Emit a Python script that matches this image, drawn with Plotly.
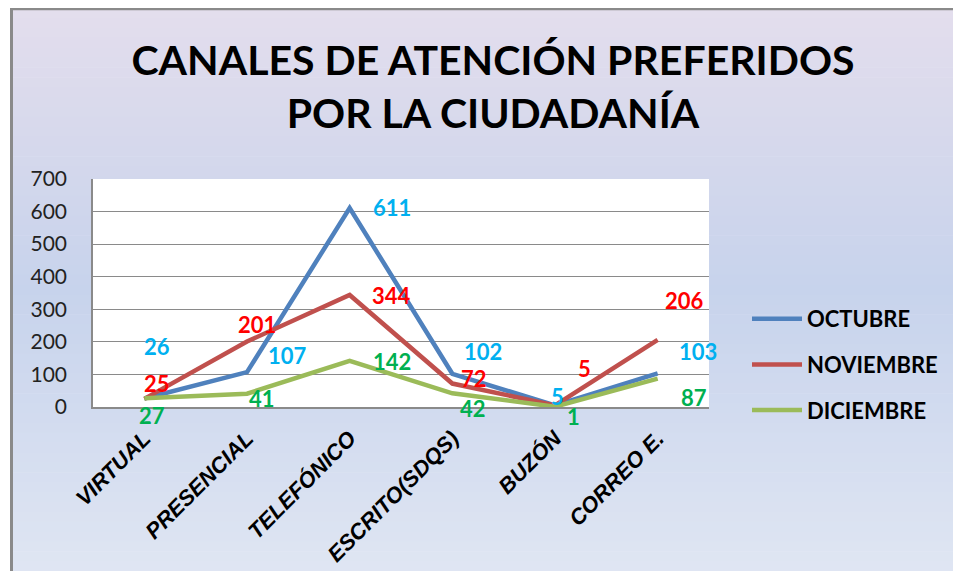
import plotly.graph_objects as go

categories = ["VIRTUAL", "PRESENCIAL", "TELEFÓNICO", "ESCRITO(SDQS)", "BUZÓN", "CORREO E."]
octubre = [26, 107, 611, 102, 5, 103]
noviembre = [25, 201, 344, 72, 5, 206]
diciembre = [27, 41, 142, 42, 1, 87]
series_names = ["OCTUBRE", "NOVIEMBRE", "DICIEMBRE"]
y_ticks = [0, 100, 200, 300, 400, 500, 600, 700]

# label offsets (pixels: dx right, dy down) per series
oct_off = [(13, -52), (40, -17), (42, 0), (31, -22), (2, -9), (40, -22)]
nov_off = [(13, -15), (10, -17), (42, 1), (22, -5), (29, -37), (27, -39)]
dic_off = [(8, 17), (15, 5), (42, 1), (21, 15), (18, 10), (36, 19)]

line_colors = ["#4F81BD", "#C0504D", "#9BBB59"]
label_colors = ["#00B0F0", "#FF0000", "#00B050"]

OFF = 8  # page body margin
W, H = 961 - 2 * OFF, 579 - 2 * OFF
# plot area in page pixels: x 93..709, y 179..407
ML = 93 - OFF
MR = W - (709 - OFF)
MT = 179 - OFF
MB = H - (407 - OFF)
PW, PH = W - ML - MR, H - MT - MB

def px(x):  # page pixel -> paper
    return ((x - OFF) - ML) / PW

def py(y):
    return (H - MB - (y - OFF)) / PH

FONT = "Lato, 'Open Sans', sans-serif"
XFONT = "'Liberation Sans Narrow', 'Liberation Sans', sans-serif"

fig = go.Figure()
all_series = [octubre, noviembre, diciembre]
all_offs = [oct_off, nov_off, dic_off]
for i, (name, vals) in enumerate(zip(series_names, all_series)):
    fig.add_trace(go.Scatter(
        x=categories, y=vals, mode="lines", name=name,
        line=dict(color=line_colors[i], width=4.5),
        legendgroup=name,
    ))

annotations = []
for i, (vals, offs) in enumerate(zip(all_series, all_offs)):
    for c, v, (dx, dy) in zip(categories, vals, offs):
        annotations.append(dict(
            x=c, y=v, xref="x", yref="y", text=str(v), showarrow=False,
            xshift=dx, yshift=-dy,
            font=dict(family=FONT, size=22, color=label_colors[i], weight="bold"),
        ))

# background gradient
stops = [(6, (228, 222, 237)), (150, (213, 216, 236)), (290, (199, 211, 236)), (579, (224, 230, 243))]

def col_at(y):
    for (y0, c0), (y1, c1) in zip(stops[:-1], stops[1:]):
        if y0 <= y <= y1:
            t = (y - y0) / (y1 - y0)
            return tuple(round(a + (b - a) * t) for a, b in zip(c0, c1))
    return stops[-1][1]

shapes = []
n = 57
y_start = 8
y_end = OFF + H
step = (y_end - y_start) / n
for k in range(n):
    y0 = y_start + k * step
    y1 = min(y0 + step + 0.6, y_end)
    c = col_at((y0 + y1) / 2)
    shapes.append(dict(type="rect", xref="paper", yref="paper",
                       x0=px(11), x1=px(OFF + W), y0=py(y0), y1=py(y1),
                       fillcolor="rgb(%d,%d,%d)" % c, line=dict(width=0), layer="below"))
shapes.append(dict(type="rect", xref="x domain", yref="y domain", x0=0, x1=1, y0=0, y1=1,
                   fillcolor="white", line=dict(width=0), layer="below"))
# frame: left and top edges only
shapes.append(dict(type="line", xref="paper", yref="paper",
                   x0=px(11.5), x1=px(11.5), y0=py(8), y1=py(OFF + H),
                   line=dict(color="#8a8a8a", width=3), layer="below"))
shapes.append(dict(type="line", xref="paper", yref="paper",
                   x0=px(10), x1=px(OFF + W), y0=py(9), y1=py(9),
                   line=dict(color="#8a8a8a", width=2.5), layer="below"))

fig.update_layout(
    width=W, height=H,
    margin=dict(l=ML, r=MR, t=MT, b=MB, autoexpand=False),
    paper_bgcolor="white", plot_bgcolor="white",
    title=dict(text="CANALES DE ATENCIÓN PREFERIDOS<br>POR LA CIUDADANÍA",
               x=(493 - OFF) / W, xanchor="center", xref="container",
               y=1 - 67 / H, yanchor="top", yref="container",
               font=dict(family=FONT, size=41, color="black", weight="bold")),
    xaxis=dict(type="category", range=[-0.5, 5.5], showgrid=False,
               showline=True, linecolor="#8a8a8a", linewidth=1.5,
               tickangle=-45, ticks="", ticklabelstandoff=8,
               tickfont=dict(family=XFONT, size=22, color="black", weight="bold", style="italic")),
    yaxis=dict(range=[0, 700], tickvals=y_ticks, showgrid=True, gridcolor="#8a8a8a", gridwidth=1,
               showline=True, linecolor="#8a8a8a", linewidth=1.5, ticks="",
               ticklabelstandoff=20, zeroline=False,
               tickfont=dict(family=FONT, size=21, color="#222222")),
    legend=dict(x=px(747), y=py(298), xanchor="left", yanchor="top",
                xref="paper", yref="paper", bgcolor="rgba(0,0,0,0)",
                font=dict(family=FONT, size=22, color="black", weight="bold"),
                tracegroupgap=14, itemwidth=50),
    annotations=annotations,
    shapes=shapes,
    showlegend=True,
)

fig.write_html("out.html")
